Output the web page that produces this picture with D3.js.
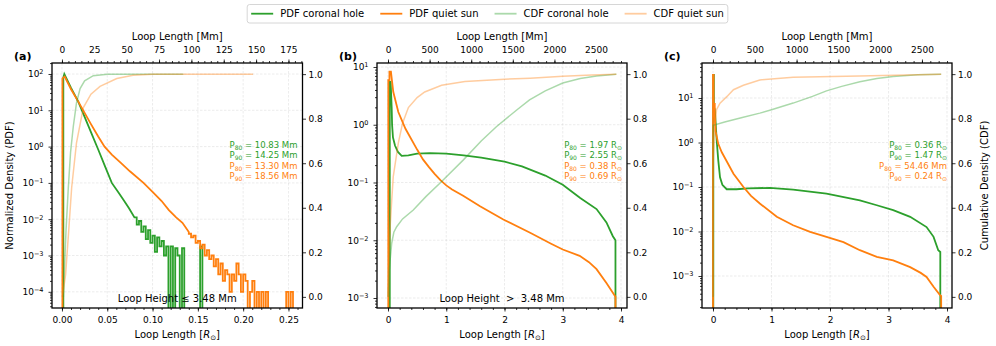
<!DOCTYPE html>
<html>
<head>
<meta charset="utf-8">
<script src="https://cdn.jsdelivr.net/npm/d3@7"></script>
<style>
	body { margin: 0; background: #fff; }
	svg text { font-family: "DejaVu Sans", sans-serif; }
</style>
</head>
<body>
<div id="content"></div>
<script>
var R_TO_MM = 700;
var green = "#2ca02c";
var orange = "#ff7f0e";

var legendLabels = ["PDF coronal hole", "PDF quiet sun", "CDF coronal hole", "CDF quiet sun"];
var panelLabels = ["(a)", "(b)", "(c)"];
var heightTexts = ["Loop Height \u2264 3.48 Mm", "Loop Height  >  3.48 Mm", ""];

// x in solar radii, second value = log10 of the normalised density (null = empty bin)
var aGreenPdf = [[0.0015, null], [0.0015, 1.9], [0.0026, 2.0], [0.010, 1.62], [0.018, 1.24], [0.025, 0.82], [0.032, 0.40], [0.040, -0.08], [0.048, -0.57], [0.055, -1.0], [0.062, -1.25], [0.068, -1.47], [0.074, -1.7], [0.080, -1.95]];
var aGreenTail = [-1.95, -2.15, -2.05, -2.35, -2.2, -2.55, -2.3, -2.65, -2.45, -2.9, -2.5, -2.75, -2.6, -3.0, -2.75, null, -2.75, null, -2.8, -3.0, null, -2.8, null, null, null, null, null, null, null, -2.75, null];
var aGreenTailStart = 0.080;
var aOrangePdf = [[0.0005, null], [0.0005, 1.88], [0.003, 1.93], [0.010, 1.58], [0.018, 1.24], [0.025, 0.93], [0.032, 0.62], [0.040, 0.28], [0.047, 0.0], [0.055, -0.22], [0.065, -0.45], [0.075, -0.68], [0.090, -1.0], [0.100, -1.25], [0.110, -1.5], [0.118, -1.75], [0.126, -1.95], [0.133, -2.1], [0.140, -2.35]];
var aOrangeTail = [-2.4, -2.5, -2.45, -2.65, -2.6, -2.8, -2.7, -3.0, -2.85, -3.1, -3.0, -3.3, -3.1, -3.52, -3.22, -3.7, -3.4, -3.52, -4.0, -3.52, -3.7, -3.22, -3.52, -4.0, -3.52, -3.7, null, -4.0, -3.7, null, -4.0, null, -4.0, null, -4.0, null, null, null, null, null, null, null, null, -4.0, null, -4.0, null];
var aOrangeTailStart = 0.140;
var aTailBin = 0.0025;

var bGreenPdf = [[0.03, null], [0.03, 0.74], [0.045, 0.74], [0.055, 0.5], [0.063, 0.3], [0.07, 0.0], [0.085, -0.22], [0.12, -0.36], [0.17, -0.47], [0.235, -0.54], [0.35, -0.53], [0.5, -0.5], [0.72, -0.49], [1.0, -0.5], [1.3, -0.53], [1.6, -0.57], [2.0, -0.64], [2.3, -0.72], [2.7, -0.88], [3.0, -1.04], [3.3, -1.27], [3.58, -1.46], [3.75, -1.69], [3.86, -1.93], [3.905, -2.0], [3.905, null]];
var bOrangePdf = [[0.005, null], [0.005, 0.77], [0.025, 0.77], [0.025, 0.92], [0.05, 0.92], [0.09, 0.57], [0.177, 0.22], [0.3, -0.07], [0.5, -0.43], [0.6, -0.6], [0.7, -0.73], [0.8, -0.85], [0.9, -0.96], [1.0, -1.05], [1.1, -1.12], [1.29, -1.23], [1.58, -1.41], [1.98, -1.64], [2.44, -1.87], [2.8, -2.06], [3.0, -2.16], [3.29, -2.27], [3.45, -2.38], [3.58, -2.5], [3.75, -2.74], [3.86, -2.91], [3.905, -2.98], [3.905, null]];

var cGreenPdf = [[0.005, null], [0.005, 1.52], [0.015, 1.52], [0.015, 0.8], [0.03, 0.75], [0.045, 0.45], [0.063, 0.05], [0.09, -0.4], [0.12, -0.78], [0.16, -0.95], [0.234, -1.05], [0.4, -1.05], [0.6, -1.03], [0.97, -1.02], [1.37, -1.06], [1.94, -1.15], [2.51, -1.3], [2.8, -1.41], [3.08, -1.52], [3.37, -1.67], [3.65, -1.9], [3.77, -2.12], [3.85, -2.42], [3.885, -2.46], [3.885, null]];
var cOrangePdf = [[0.0, null], [0.0, 1.52], [0.01, 1.52], [0.01, 0.87], [0.03, 0.87], [0.03, 0.6], [0.045, 0.25], [0.09, -0.03], [0.15, -0.22], [0.234, -0.42], [0.35, -0.7], [0.52, -1.0], [0.65, -1.2], [0.8, -1.37], [1.09, -1.67], [1.37, -1.86], [1.66, -2.01], [1.94, -2.12], [2.23, -2.24], [2.51, -2.42], [2.8, -2.57], [3.08, -2.65], [3.37, -2.8], [3.55, -2.93], [3.65, -3.02], [3.77, -3.24], [3.88, -3.43], [3.9, -3.45], [3.9, null]];

// cumulative densities, x in solar radii
var aGreenCdf = [[0.0015, 0], [0.003, 0.15], [0.0045, 0.3], [0.007, 0.49], [0.0095, 0.65], [0.0125, 0.765], [0.016, 0.87], [0.02, 0.935], [0.025, 0.97], [0.0346, 0.993], [0.05, 0.999], [0.134, 1.0]];
var aOrangeCdf = [[0.0005, 0], [0.004, 0.1], [0.0075, 0.3], [0.0107, 0.49], [0.016, 0.69], [0.0236, 0.85], [0.032, 0.91], [0.042, 0.945], [0.0605, 0.98], [0.0785, 0.995], [0.1, 0.999], [0.211, 1.0]];
var bGreenCdf = [[0.005, 0], [0.02, 0.12], [0.063, 0.24], [0.1, 0.29], [0.149, 0.315], [0.25, 0.35], [0.434, 0.39], [0.65, 0.45], [0.89, 0.51], [1.29, 0.614], [1.6, 0.7], [1.86, 0.764], [2.21, 0.839], [2.43, 0.884], [2.7, 0.925], [3.0, 0.96], [3.3, 0.98], [3.58, 0.992], [3.92, 1.0]];
var bOrangeCdf = [[0.005, 0], [0.02, 0.2], [0.04, 0.33], [0.063, 0.43], [0.09, 0.54], [0.177, 0.69], [0.25, 0.78], [0.35, 0.85], [0.5, 0.895], [0.63, 0.92], [0.92, 0.95], [1.32, 0.967], [2.0, 0.977], [2.44, 0.982], [3.0, 0.99], [3.5, 0.996], [3.92, 1.0]];
var cGreenCdf = [[0.005, 0], [0.005, 0.77], [0.2, 0.785], [0.5, 0.805], [0.8, 0.825], [1.0, 0.84], [1.37, 0.87], [1.7, 0.9], [1.94, 0.925], [2.2, 0.945], [2.51, 0.966], [2.8, 0.98], [3.08, 0.989], [3.5, 0.997], [3.9, 1.0]];
var cOrangeCdf = [[0.0, 0], [0.0, 0.6], [0.02, 0.72], [0.06, 0.84], [0.12, 0.87], [0.24, 0.9], [0.35, 0.93], [0.52, 0.95], [0.8, 0.974], [1.37, 0.986], [2.5, 0.992], [3.9, 1.0]];

// percentile annotations: coronal hole P80, P90, quiet sun P80, P90
var percNames = ["80", "90", "80", "90"];
var percColors = [green, green, orange, orange];
var aPercValues = [10.83, 14.25, 13.30, 18.56];
var aPercUnits = ["Mm", "Mm", "Mm", "Mm"];
var bPercValues = [1.97, 2.55, 0.38, 0.69];
var bPercUnits = ["R", "R", "R", "R"];
var cPercValues = [0.36, 1.47, 54.46, 0.24];
var cPercUnits = ["R", "R", "Mm", "R"];

// axis limits and ticks
var aXDomain = [-0.011, 0.2655], aLogDomain = [-4.446, 2.303];
var bXDomain = [-0.189, 4.103], bLogDomain = [-3.173, 1.069];
var cXDomain = [-0.188, 4.085], cLogDomain = [-3.719, 1.787];
var aXTicks = [0, 0.05, 0.10, 0.15, 0.20, 0.25];
var bcXTicks = [0, 1, 2, 3, 4];
var aMmTicks = [0, 25, 50, 75, 100, 125, 150, 175];
var bcMmTicks = [0, 500, 1000, 1500, 2000, 2500];
var cdfTicks = [0, 0.2, 0.4, 0.6, 0.8, 1.0];

var TOP = 63, BOTTOM = 308;

function main() {
	var svg = d3.select("#content").append("svg")
		.attr("width", 996)
		.attr("height", 346);

	var panels = [
		{ left: 52, right: 302.5, xDom: aXDomain, logDom: aLogDomain, xTicks: aXTicks, xMinor: 0.01, xFmt: d3.format(".2f"),
			mmTicks: aMmTicks, mmMinor: 5,
			pdf: [{ pts: pdfPoints(aGreenPdf, aGreenTail, aGreenTailStart, aTailBin), color: green },
				{ pts: pdfPoints(aOrangePdf, aOrangeTail, aOrangeTailStart, aTailBin), color: orange }],
			cdf: [{ pts: aGreenCdf, color: green }, { pts: aOrangeCdf, color: orange }],
			percValues: aPercValues, percUnits: aPercUnits },
		{ left: 377, right: 627, xDom: bXDomain, logDom: bLogDomain, xTicks: bcXTicks, xMinor: 0.2, xFmt: d3.format("d"),
			mmTicks: bcMmTicks, mmMinor: 100,
			pdf: [{ pts: pdfPoints(bGreenPdf), color: green }, { pts: pdfPoints(bOrangePdf), color: orange }],
			cdf: [{ pts: bGreenCdf, color: green }, { pts: bOrangeCdf, color: orange }],
			percValues: bPercValues, percUnits: bPercUnits },
		{ left: 702, right: 952, xDom: cXDomain, logDom: cLogDomain, xTicks: bcXTicks, xMinor: 0.2, xFmt: d3.format("d"),
			mmTicks: bcMmTicks, mmMinor: 100,
			pdf: [{ pts: pdfPoints(cGreenPdf), color: green }, { pts: pdfPoints(cOrangePdf), color: orange }],
			cdf: [{ pts: cGreenCdf, color: green }, { pts: cOrangeCdf, color: orange }],
			percValues: cPercValues, percUnits: cPercUnits }
	];

	panels.forEach(function (p, i) {
		drawPanel(svg, p, i);
	});

	drawLegend(svg);
}

function pdfPoints(pairs, tail, tailStart, bin) {
	var pts = pairs.map(function (d) { return { x: d[0], v: d[1] }; });
	if (tail) {
		tail.forEach(function (v, i) {
			var x0 = tailStart + i * bin;
			pts.push({ x: x0, v: v });
			pts.push({ x: x0 + bin, v: v });
		});
	}
	return pts;
}

function styleAxis(g, size) {
	g.select(".domain").remove();
	g.selectAll(".tick line").attr("stroke", "#000").attr("stroke-width", 0.8);
	g.selectAll("text").attr("fill", "#000").attr("font-size", size || 9)
		.attr("font-family", "DejaVu Sans, sans-serif");
	g.attr("font-family", null).attr("font-size", null);
}

function drawPanel(svg, p, idx) {
	var g = svg.append("g");
	var x = d3.scaleLinear().domain(p.xDom).range([p.left, p.right]);
	var xMm = d3.scaleLinear().domain([p.xDom[0] * R_TO_MM, p.xDom[1] * R_TO_MM]).range([p.left, p.right]);
	var y = d3.scaleLog().domain([Math.pow(10, p.logDom[0]), Math.pow(10, p.logDom[1])]).range([BOTTOM, TOP]);
	var yR = d3.scaleLinear().domain([-0.05, 1.05]).range([BOTTOM, TOP]);

	var majors = d3.range(Math.ceil(p.logDom[0]), Math.floor(p.logDom[1]) + 1).map(function (k) { return Math.pow(10, k); });
	var minors = [];
	d3.range(Math.floor(p.logDom[0]), Math.ceil(p.logDom[1]) + 1).forEach(function (k) {
		for (var m = 2; m < 10; m++) {
			var v = m * Math.pow(10, k);
			if (v > y.domain()[0] && v < y.domain()[1]) minors.push(v);
		}
	});

	// grid
	var grid = g.append("g").attr("stroke", "#b0b0b0").attr("stroke-opacity", 0.35)
		.attr("stroke-width", 0.7).attr("stroke-dasharray", "2.5,1.5");
	grid.selectAll("line.gx").data(p.xTicks).enter().append("line")
		.attr("x1", x).attr("x2", x).attr("y1", TOP).attr("y2", BOTTOM);
	grid.selectAll("line.gy").data(majors).enter().append("line")
		.attr("x1", p.left).attr("x2", p.right).attr("y1", y).attr("y2", y);

	var clipId = "clip" + idx;
	svg.append("clipPath").attr("id", clipId).append("rect")
		.attr("x", p.left).attr("y", TOP).attr("width", p.right - p.left).attr("height", BOTTOM - TOP);

	var pdfLine = d3.line()
		.x(function (d) { return x(d.x); })
		.y(function (d) { return d.v === null ? BOTTOM + 6 : y(Math.pow(10, d.v)); });
	var cdfLine = d3.line()
		.x(function (d) { return x(d[0]); })
		.y(function (d) { return yR(d[1]); });

	var plot = g.append("g").attr("clip-path", "url(#" + clipId + ")");
	p.pdf.forEach(function (s) {
		plot.append("path").datum(s.pts)
			.attr("d", pdfLine)
			.attr("fill", "none")
			.attr("stroke", s.color)
			.attr("stroke-width", 1.8)
			.attr("stroke-linejoin", "miter");
	});
	p.cdf.forEach(function (s) {
		plot.append("path").datum(s.pts)
			.attr("d", cdfLine)
			.attr("fill", "none")
			.attr("stroke", s.color)
			.attr("stroke-opacity", 0.4)
			.attr("stroke-width", 1.5);
	});

	// axes
	var ax;
	ax = g.append("g").attr("transform", "translate(0," + BOTTOM + ")")
		.call(d3.axisBottom(x).tickValues(p.xTicks).tickSize(3.5).tickPadding(5.5).tickFormat(p.xFmt));
	styleAxis(ax);
	var xMinors = d3.range(0, p.xDom[1], p.xMinor).filter(function (v) { return v >= p.xDom[0]; });
	ax = g.append("g").attr("transform", "translate(0," + BOTTOM + ")")
		.call(d3.axisBottom(x).tickValues(xMinors).tickSize(2).tickFormat(""));
	styleAxis(ax);

	ax = g.append("g").attr("transform", "translate(0," + TOP + ")")
		.call(d3.axisTop(xMm).tickValues(p.mmTicks).tickSize(3.5).tickPadding(6.5).tickFormat(d3.format("d")));
	styleAxis(ax);
	var mmMinors = d3.range(0, xMm.domain()[1], p.mmMinor);
	ax = g.append("g").attr("transform", "translate(0," + TOP + ")")
		.call(d3.axisTop(xMm).tickValues(mmMinors).tickSize(2).tickFormat(""));
	styleAxis(ax);

	ax = g.append("g").attr("transform", "translate(" + p.left + ",0)")
		.call(d3.axisLeft(y).tickValues(majors).tickSize(3.5).tickPadding(5).tickFormat(""));
	styleAxis(ax);
	ax.selectAll(".tick text").each(function (d) {
		var k = Math.round(Math.log10(d));
		var t = d3.select(this);
		t.append("tspan").text("10");
		t.append("tspan").attr("dy", "-0.45em").attr("font-size", "6.5px").text(k < 0 ? "\u2212" + (-k) : String(k));
	});
	ax = g.append("g").attr("transform", "translate(" + p.left + ",0)")
		.call(d3.axisLeft(y).tickValues(minors).tickSize(2).tickFormat(""));
	styleAxis(ax);

	ax = g.append("g").attr("transform", "translate(" + p.right + ",0)")
		.call(d3.axisRight(yR).tickValues(cdfTicks).tickSize(3.5).tickPadding(2.5).tickFormat(d3.format(".1f")));
	styleAxis(ax);

	// frame
	g.append("rect")
		.attr("x", p.left).attr("y", TOP)
		.attr("width", p.right - p.left).attr("height", BOTTOM - TOP)
		.attr("fill", "none").attr("stroke", "#000").attr("stroke-width", 1.3);

	var cx = (p.left + p.right) / 2;

	// axis labels
	g.append("text").attr("x", cx).attr("y", 39.5).attr("text-anchor", "middle")
		.attr("font-size", 10).text("Loop Length [Mm]");
	var xl = g.append("text").attr("x", cx).attr("y", 338).attr("text-anchor", "middle").attr("font-size", 10);
	xl.append("tspan").text("Loop Length [");
	xl.append("tspan").attr("font-style", "italic").text("R");
	xl.append("tspan").attr("dy", 2).attr("font-size", 7).text("\u2299");
	xl.append("tspan").attr("dy", -2).text("]");

	if (idx === 0) {
		g.append("text").attr("transform", "translate(12.5," + (TOP + BOTTOM) / 2 + ") rotate(-90)")
			.attr("text-anchor", "middle").attr("font-size", 10).text("Normalized Density (PDF)");
	}
	if (idx === 2) {
		g.append("text").attr("transform", "translate(988," + (TOP + BOTTOM) / 2 + ") rotate(-90)")
			.attr("text-anchor", "middle").attr("font-size", 10).text("Cumulative Density (CDF)");
	}

	g.append("text").attr("x", p.left - 38).attr("y", 59.5)
		.attr("font-size", 11).attr("font-weight", "bold").text(panelLabels[idx]);

	if (heightTexts[idx]) {
		g.append("text").attr("x", cx).attr("y", 302).attr("text-anchor", "middle")
			.attr("font-size", 10).style("white-space", "pre").text(heightTexts[idx]);
	}

	// percentile annotations
	p.percValues.forEach(function (v, i) {
		var t = g.append("text").attr("x", p.right - 5).attr("y", 148 + i * 10.3)
			.attr("text-anchor", "end").attr("font-size", 8.5).attr("fill", percColors[i]);
		t.append("tspan").text("P");
		t.append("tspan").attr("dy", 2).attr("font-size", 6).text(percNames[i]);
		t.append("tspan").attr("dy", -2).text(" = " + v.toFixed(2) + " " + p.percUnits[i]);
		if (p.percUnits[i] === "R") {
			t.append("tspan").attr("dy", 2).attr("font-size", 6).text("\u2299");
		}
	});
}

function drawLegend(svg) {
	var colors = [green, orange, green, orange];
	var opac = [1, 1, 0.4, 0.4];
	var g = svg.append("g");
	var box = g.append("rect")
		.attr("y", 4.5).attr("height", 18.5).attr("rx", 2.5)
		.attr("fill", "#fff").attr("fill-opacity", 0.8)
		.attr("stroke", "#cccccc").attr("stroke-width", 0.8);
	var xPos = 0;
	var items = legendLabels.map(function (lab, i) {
		var it = g.append("g");
		it.append("line").attr("x1", 0).attr("x2", 22).attr("y1", 13.7).attr("y2", 13.7)
			.attr("stroke", colors[i]).attr("stroke-opacity", opac[i]).attr("stroke-width", 1.8);
		var t = it.append("text").attr("x", 29).attr("y", 17.3).attr("font-size", 10).text(lab);
		var w = 29 + t.node().getComputedTextLength();
		it.attr("transform", "translate(" + xPos + ",0)");
		xPos += w + 16;
		return it;
	});
	var total = xPos - 16 + 8;
	var left = 487.5 - total / 2;
	box.attr("x", left).attr("width", total);
	items.forEach(function (it, i) {
		var tr = it.attr("transform").match(/translate\(([-\d.]+)/);
		it.attr("transform", "translate(" + (left + 4 + parseFloat(tr[1])) + ",0)");
	});
}

(() => {
	main();
})()
</script>
</body>
</html>
